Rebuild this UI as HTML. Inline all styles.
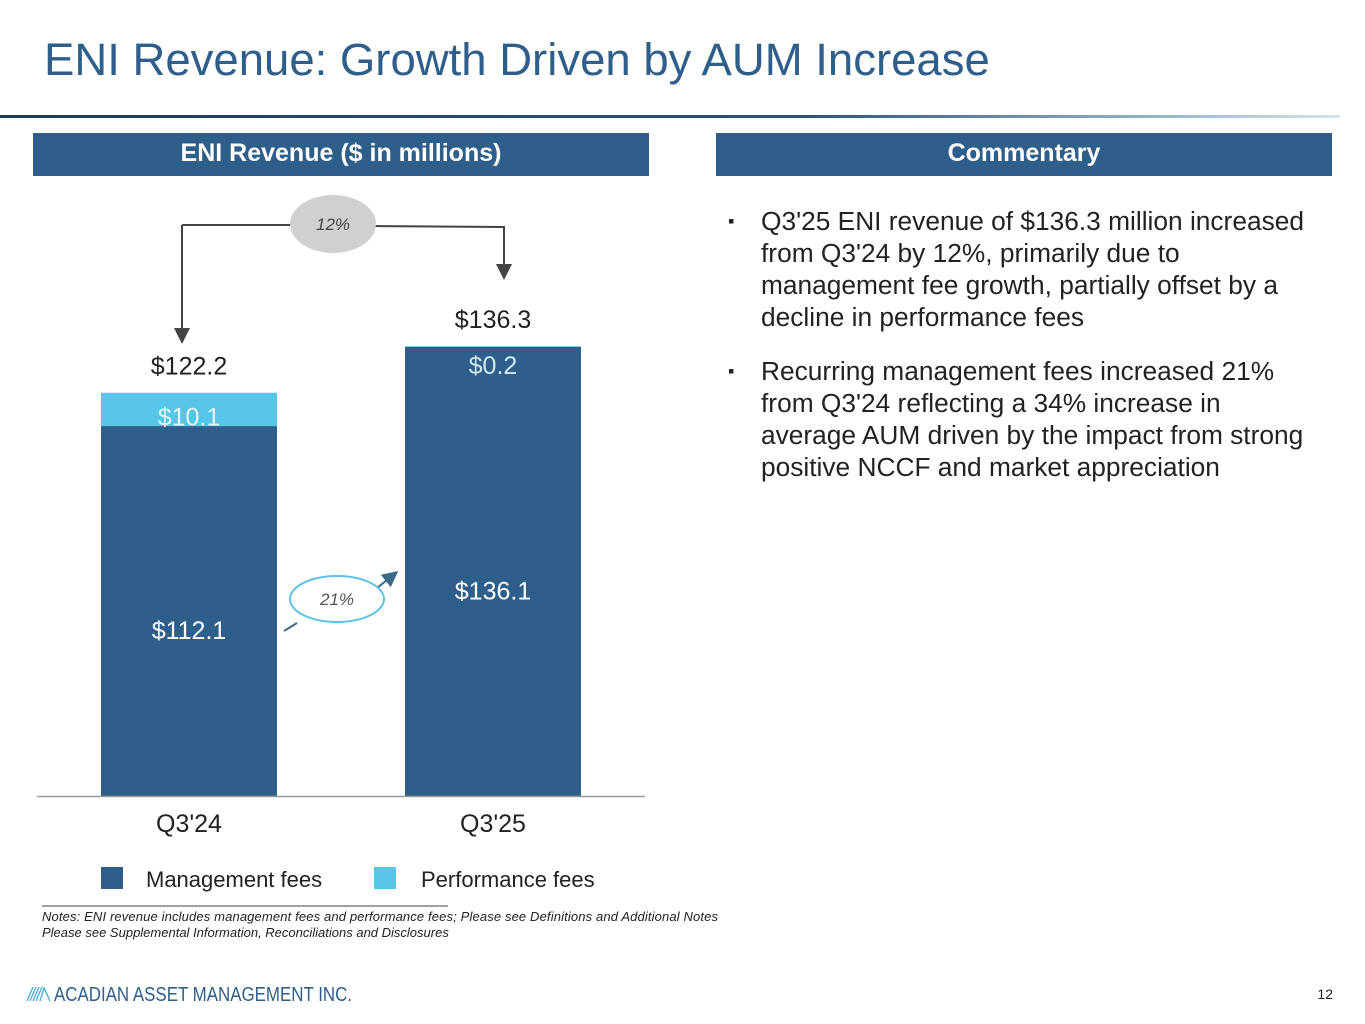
<!DOCTYPE html>
<html><head><meta charset="utf-8"><style>
body{margin:0;width:1365px;height:1024px;background:#fff;font-family:"Liberation Sans",Arial,sans-serif;position:relative;overflow:hidden}
.abs{position:absolute}
</style></head><body>
<div class="abs" style="left:44px;top:34px;font-size:45.5px;color:#2e5f8a">ENI Revenue: Growth Driven by AUM Increase</div>
<div class="abs" style="left:0;top:115px;width:1340px;height:3px;background:linear-gradient(90deg,#1c3d55,#2a5575 60%,#cfe6f0)"></div>
<div class="abs" style="left:33px;top:133px;width:616px;height:43px;background:#2e5f8a;color:#fff;font-weight:bold;font-size:25px;text-align:center;line-height:40px">ENI Revenue ($ in millions)</div>
<div class="abs" style="left:716px;top:133px;width:616px;height:43px;background:#2e5f8a;color:#fff;font-weight:bold;font-size:25px;text-align:center;line-height:40px">Commentary</div>
<div class="abs" style="left:728px;top:205px;width:585px;font-size:26.3px;line-height:32px;color:#222">
<div style="position:relative;padding-left:33px;margin-bottom:22px"><span style="position:absolute;left:0;font-size:18px">▪</span>Q3'25 ENI revenue of $136.3 million increased from Q3'24 by 12%, primarily due to management fee growth, partially offset by a decline in performance fees</div>
<div style="position:relative;padding-left:33px"><span style="position:absolute;left:0;font-size:18px">▪</span>Recurring management fees increased 21% from Q3'24 reflecting a 34% increase in average AUM driven by the impact from strong positive NCCF and market appreciation</div>
</div>
<svg class="abs" style="left:0;top:0" width="1365" height="1024" id="chart">
<defs><marker id="ah" markerWidth="8" markerHeight="8" refX="4" refY="4" orient="auto"><path d="M0,0L8,4L0,8z" fill="#444"/></marker>
<marker id="ah2" markerWidth="8" markerHeight="8" refX="4" refY="4" orient="auto"><path d="M0,0L8,4L0,8z" fill="#3a6a8a"/></marker></defs>
<g id="bars"></g>
<line x1="37" y1="796.5" x2="645" y2="796.5" stroke="#999" stroke-width="1.5"/>
<path d="M182,225 L182,336" stroke="#444" stroke-width="2" fill="none" marker-end="url(#ah)"/>
<path d="M182,225 L295,225 M372,226 L504,227 L504,272" stroke="#444" stroke-width="2" fill="none" marker-end="url(#ah)"/>
<ellipse cx="333" cy="224" rx="43" ry="29" fill="#d0d0d0"/>
<text x="333" y="230" font-size="17" font-style="italic" text-anchor="middle" fill="#444">12%</text>
<path d="M284,631 L297,623" stroke="#3a6a8a" stroke-width="2"/>
<path d="M377,588 L392,576" stroke="#3a6a8a" stroke-width="2" marker-end="url(#ah2)"/>
<ellipse cx="337" cy="599" rx="47" ry="23" fill="#fff" stroke="#5bc3e6" stroke-width="2"/>
<text x="337" y="605" font-size="17" font-style="italic" text-anchor="middle" fill="#555">21%</text>
<g id="labels"></g>
<rect x="101" y="867" width="22" height="22" fill="#2e5f8a"/>
<text x="146" y="887" font-size="22" fill="#222">Management fees</text>
<rect x="374" y="867" width="22" height="22" fill="#56c5e8"/>
<text x="421" y="887" font-size="22" fill="#222">Performance fees</text>
<line x1="42" y1="906" x2="448" y2="906" stroke="#444" stroke-width="1"/>
<text x="42" y="921" font-size="13" font-style="italic" fill="#222" textLength="676">Notes: ENI revenue includes management fees and performance fees; Please see Definitions and Additional Notes</text>
<text x="42" y="937" font-size="13" font-style="italic" fill="#222">Please see Supplemental Information, Reconciliations and Disclosures</text>
<g>
<path d="M27,1001 L33,987 M30,1001 L36,987 M33,1001 L39,987 M36,1001 L42,987 M40,1001 L44,988 L50,1001" stroke="#5ab4d8" stroke-width="1.5" fill="none"/>
<text x="54" y="1001" font-size="20" fill="#2e5f8a" textLength="298" lengthAdjust="spacingAndGlyphs">ACADIAN ASSET MANAGEMENT INC.</text></g>
<text x="1333" y="999" font-size="14" text-anchor="end" fill="#222">12</text>
</svg>
<script>
const categories=["Q3'24","Q3'25"];
const mgmtFees=[112.1,136.1];
const perfFees=[10.1,0.2];
const totals=[122.2,136.3];
const NS="http://www.w3.org/2000/svg";
const base=796, scale=3.3, barW=176;
function yv(v){return base-v*scale;}
function xb(i){return 101+i*304;}
const gb=document.getElementById('bars'), gl=document.getElementById('labels');
function mk(tag,attrs,parent){const e=document.createElementNS(NS,tag);for(const k in attrs)e.setAttribute(k,attrs[k]);parent.appendChild(e);return e;}
function txt(x,y,s,fill,parent){const t=mk('text',{x:x,y:y,'font-size':25,'text-anchor':'middle',fill:fill},parent);t.textContent=s;return t;}
categories.forEach((c,i)=>{
  const x=xb(i);
  const r1=mk('rect',{x:x,y:yv(mgmtFees[i]),width:barW,height:base-yv(mgmtFees[i]),fill:'#2e5f8a'},gb);
  
  
  const r2=mk('rect',{x:x,y:yv(mgmtFees[i]+perfFees[i]),width:barW,height:perfFees[i]*scale,fill:'#56c5e8'},gb);
  
  
  const cx=x+barW/2;
  const a=txt(cx,yv(mgmtFees[i]/2)+28,'$'+mgmtFees[i].toFixed(1),'#fff',gl);
  
  
  const pb=perfFees[i]<2?yv(mgmtFees[i])+27:yv(mgmtFees[i]+perfFees[i]/2)+16;
  const b=txt(cx,pb,'$'+perfFees[i].toFixed(1),perfFees[i]<2?'#cfe9f5':'#e8f6fc',gl);
  
  
  const t=txt(cx,yv(totals[i])-18,'$'+totals[i].toFixed(1),'#222',gl);
  
  
  const l=txt(cx,832,c,'#222',gl);
  
  
});
</script>
</body></html>
